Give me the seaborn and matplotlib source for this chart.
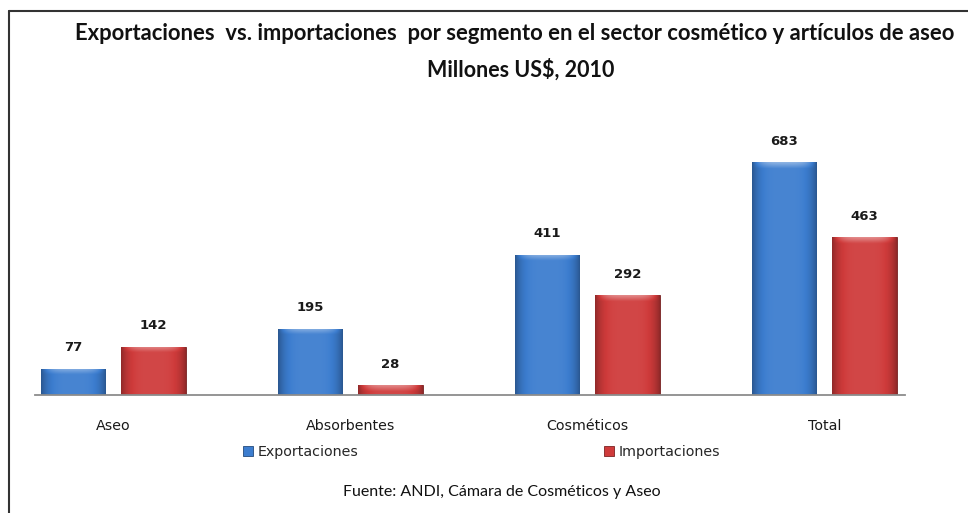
import numpy as np
import pandas as pd
import matplotlib
matplotlib.use("Agg")
import matplotlib.pyplot as plt
from matplotlib.lines import Line2D
from matplotlib.patches import Patch
import seaborn as sns

# Data: millions of US$, 2010
segmentos = ["Aseo", "Absorbentes", "Cosméticos", "Total"]
exportaciones = [77, 195, 411, 683]
importaciones = [142, 28, 292, 463]
series = ["Exportaciones", "Importaciones"]

titulo_1 = "Exportaciones  vs. importaciones  por segmento en el sector cosmético y artículos de aseo"
titulo_2 = "Millones US$, 2010"
fuente = "Fuente: ANDI, Cámara de Cosméticos y Aseo"

df = pd.DataFrame({
    "segmento": segmentos * 2,
    "serie": [series[0]] * len(segmentos) + [series[1]] * len(segmentos),
    "valor": exportaciones + importaciones,
})

sns.set_theme(style="white")
plt.rcParams["font.family"] = ["DejaVu Sans"]

W, H = 968, 513
fig = plt.figure(figsize=(W / 100, H / 100), dpi=100)
ax = fig.add_axes([35 / W, 1 - 395 / H, (905 - 35) / W, (395 - 110) / H])

base_cols = {"Exportaciones": "#3C7DCF", "Importaciones": "#CF3B3B"}
sns.barplot(data=df, x="segmento", y="valor", hue="serie", order=segmentos,
            hue_order=series, palette=base_cols, width=0.68, gap=0.2,
            ax=ax, legend=False, saturation=1)

def shade(rgb, f):
    rgb = np.asarray(rgb, dtype=float)
    if f >= 0:
        return rgb + (1 - rgb) * f
    return rgb * (1 + f)

# Bevelled look: dark sides, lighter centre, bright rim along the top
px_per_unit = (395 - 110) / 836.0
for container, name in zip(ax.containers, series):
    base = np.array(matplotlib.colors.to_rgb(base_cols[name]))
    for p in container:
        x0, w, h = p.get_x(), p.get_width(), p.get_height()
        nx, ny = 64, 200
        u = np.linspace(0, 1, nx)
        side = np.clip(np.abs(2 * u - 1), 0, 1) ** 4
        prof = 0.06 - 0.35 * side
        hpx = h * px_per_unit
        v = np.linspace(1, 0, ny) * hpx  # distance from bottom in px
        top = np.clip(1 - (hpx - v) / 6.0, 0, 1)
        img = np.zeros((ny, nx, 3))
        for i in range(ny):
            for j in range(nx):
                f = prof[j] + 0.35 * top[i] * (1 - side[j])
                img[i, j] = np.clip(shade(base, f), 0, 1)
        im = ax.imshow(img, extent=(x0, x0 + w, 0, h), aspect="auto",
                       interpolation="bilinear", zorder=p.get_zorder() + 0.1)
        im.set_clip_path(p)
        p.set_edgecolor(shade(base, -0.45))
        p.set_linewidth(0.6)
    ax.bar_label(container, padding=10.5, fontsize=9.5, fontweight="bold",
                 color="#1a1a1a")

ax.set_xlim(-0.33, 3.34)
ax.set_ylim(0, 836)
ax.set_xlabel("")
ax.set_ylabel("")
ax.set_yticks([])
ax.tick_params(axis="x", length=0, pad=17, labelsize=10.3, labelcolor="#1a1a1a")
for s in ["top", "right", "left"]:
    ax.spines[s].set_visible(False)
ax.spines["bottom"].set_color("#8c8c8c")
ax.spines["bottom"].set_linewidth(1.3)

handles = [Patch(facecolor=base_cols[s], edgecolor=shade(matplotlib.colors.to_rgb(base_cols[s]), -0.4),
                 linewidth=0.6) for s in series]
fig.legend(handles, series, ncol=2, loc="center left",
           bbox_to_anchor=(243 / W, 1 - 452 / H), frameon=False,
           fontsize=10.3, handlelength=0.7, handleheight=0.7,
           handletextpad=0.3, columnspacing=17.2, borderaxespad=0,
           borderpad=0)

fig.text(75 / W, 1 - 40 / H, titulo_1, ha="left", va="baseline",
         fontsize=15.8, fontweight="bold", family=["Lato", "DejaVu Sans"], color="#111111")
fig.text(521 / W, 1 - 77 / H, titulo_2, ha="center", va="baseline",
         fontsize=15.5, fontweight="bold", family=["Lato", "DejaVu Sans"], color="#111111")
fig.text(502 / W, 1 - 492 / H, fuente, ha="center", va="center",
         fontsize=11.5, family=["Lato", "DejaVu Sans"], color="#111111")

# Frame around the chart area
lc = "#333333"
fig.add_artist(Line2D([8.5 / W, 8.5 / W], [0, 1 - 10.5 / H], transform=fig.transFigure,
                      color=lc, linewidth=1.5))
fig.add_artist(Line2D([8.5 / W, 1], [1 - 10.5 / H, 1 - 10.5 / H], transform=fig.transFigure,
                      color=lc, linewidth=1.5))

fig.savefig("out.png", dpi=100)
